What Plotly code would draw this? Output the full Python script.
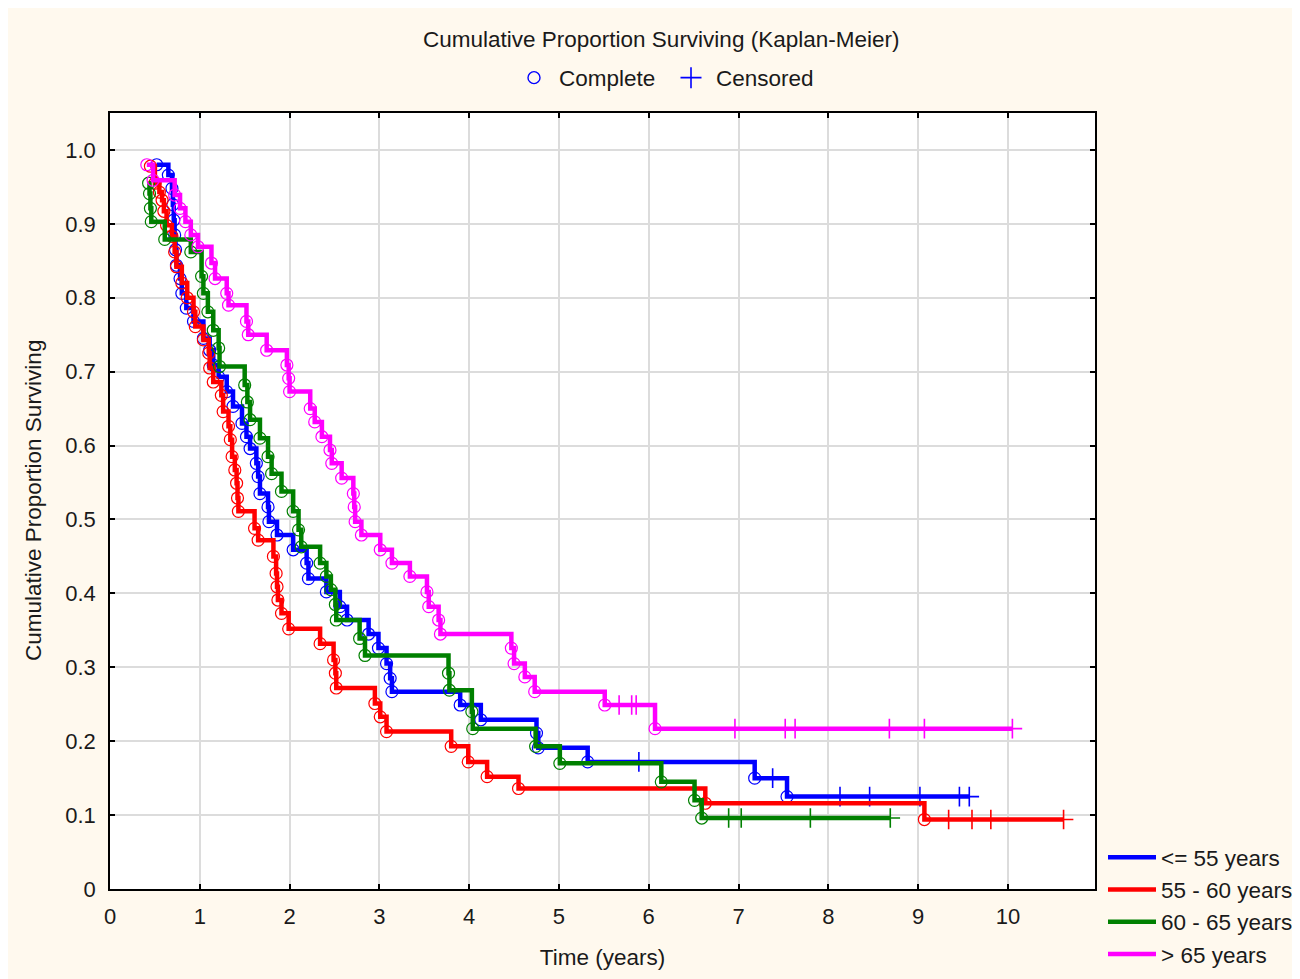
import plotly.graph_objects as go

# ---------------- data ----------------
group_names = ["<= 55 years", "55 - 60 years", "60 - 65 years", "> 65 years"]
group_colors = ["#0000FF", "#FF0000", "#008000", "#FF00FF"]

blue_t = [0.52, 0.65, 0.69, 0.70, 0.71, 0.72, 0.73, 0.74, 0.78, 0.80, 0.85, 0.93, 1.04, 1.11, 1.15,
          1.21, 1.30, 1.37, 1.47, 1.52, 1.56, 1.63, 1.65, 1.67, 1.76, 1.77, 1.86, 2.04, 2.19, 2.21,
          2.41, 2.56, 2.64, 2.88, 2.99, 3.08, 3.12, 3.14, 3.90, 4.13, 4.75, 4.77, 5.32, 7.18, 7.54]
blue_s = [0.980, 0.966, 0.948, 0.926, 0.905, 0.885, 0.865, 0.844, 0.826, 0.806, 0.786, 0.768, 0.745,
          0.729, 0.709, 0.693, 0.673, 0.653, 0.630, 0.612, 0.596, 0.576, 0.558, 0.535, 0.517, 0.497,
          0.479, 0.459, 0.441, 0.420, 0.402, 0.382, 0.364, 0.345, 0.326, 0.305, 0.285, 0.267, 0.249,
          0.229, 0.211, 0.191, 0.172, 0.150, 0.125]
blue_cens = [5.89, 7.38, 8.13, 8.46, 9.02, 9.46, 9.57]

red_t = [0.45, 0.50, 0.55, 0.58, 0.60, 0.63, 0.69, 0.72, 0.74, 0.80, 0.86, 0.93, 0.95, 1.04, 1.10,
         1.11, 1.15, 1.24, 1.26, 1.32, 1.34, 1.36, 1.39, 1.41, 1.42, 1.43, 1.61, 1.65, 1.82, 1.85,
         1.86, 1.87, 1.91, 1.99, 2.34, 2.49, 2.51, 2.52, 2.95, 3.01, 3.08, 3.80, 3.99, 4.20, 4.55,
         6.63, 9.07]
red_s = [0.978, 0.955, 0.943, 0.932, 0.917, 0.898, 0.883, 0.862, 0.842, 0.820, 0.800, 0.781, 0.761,
         0.743, 0.725, 0.705, 0.686, 0.668, 0.646, 0.626, 0.608, 0.585, 0.567, 0.549, 0.529, 0.511,
         0.488, 0.472, 0.450, 0.427, 0.409, 0.391, 0.373, 0.352, 0.332, 0.310, 0.292, 0.272, 0.251,
         0.233, 0.213, 0.193, 0.172, 0.152, 0.136, 0.116, 0.094]
red_cens = [9.34, 9.60, 9.81, 10.62]

green_t = [0.43, 0.44, 0.45, 0.46, 0.61, 0.90, 1.02, 1.04, 1.09, 1.15, 1.21, 1.22, 1.50, 1.53, 1.56,
           1.67, 1.76, 1.80, 1.91, 2.04, 2.10, 2.13, 2.34, 2.41, 2.46, 2.51, 2.52, 2.78, 2.84, 3.77,
           3.78, 4.03, 4.04, 4.74, 5.01, 6.14, 6.51, 6.59]
green_s = [0.955, 0.941, 0.921, 0.903, 0.879, 0.862, 0.829, 0.806, 0.781, 0.756, 0.732, 0.707, 0.682,
           0.659, 0.635, 0.610, 0.585, 0.562, 0.538, 0.511, 0.486, 0.463, 0.441, 0.423, 0.405, 0.385,
           0.364, 0.339, 0.316, 0.292, 0.269, 0.240, 0.217, 0.193, 0.170, 0.145, 0.120, 0.096]
green_cens = [6.89, 7.03, 7.80, 8.69]

magenta_t = [0.41, 0.48, 0.72, 0.78, 0.84, 0.90, 0.98, 1.13, 1.17, 1.30, 1.32, 1.52, 1.54, 1.745,
             1.97, 1.99, 2.00, 2.23, 2.28, 2.36, 2.45, 2.47, 2.58, 2.71, 2.72, 2.73, 2.80, 3.01, 3.14,
             3.34, 3.53, 3.55, 3.66, 3.68, 4.47, 4.50, 4.62, 4.73, 5.51, 6.07]
magenta_s = [0.980, 0.959, 0.939, 0.921, 0.903, 0.885, 0.869, 0.847, 0.826, 0.806, 0.790, 0.768,
             0.750, 0.729, 0.709, 0.691, 0.673, 0.650, 0.632, 0.612, 0.594, 0.576, 0.556, 0.535,
             0.517, 0.497, 0.479, 0.459, 0.441, 0.423, 0.402, 0.382, 0.364, 0.345, 0.326, 0.305,
             0.287, 0.267, 0.249, 0.217]
magenta_cens = [5.67, 5.81, 5.86, 6.96, 7.52, 7.63, 8.68, 9.07, 10.05]

x_ticks = [0, 1, 2, 3, 4, 5, 6, 7, 8, 9, 10]
y_ticks = [0, 0.1, 0.2, 0.3, 0.4, 0.5, 0.6, 0.7, 0.8, 0.9, 1.0]
y_tick_labels = ["0", "0.1", "0.2", "0.3", "0.4", "0.5", "0.6", "0.7", "0.8", "0.9", "1.0"]

groups = [
    (blue_t, blue_s, blue_cens),
    (red_t, red_s, red_cens),
    (green_t, green_s, green_cens),
    (magenta_t, magenta_s, magenta_cens),
]

FONT = "Liberation Sans, Arial, sans-serif"
TXT = "#1a1a1a"
FS = 22.5

# figure geometry (pixels)
W, H = 1300, 979
ML, MR, MT, MB = 102, 213, 105, 98
PW, PH = W - ML - MR, H - MT - MB


def surv_at(times, surv, c):
    val = surv[0]
    for t, s in zip(times, surv):
        if t <= c:
            val = s
    return val


fig = go.Figure()

for (t, s, cens), name, col in zip(groups, group_names, group_colors):
    end = max(max(t), max(cens))
    lx = list(t) + [end]
    ly = list(s) + [s[-1]]
    fig.add_trace(go.Scatter(
        x=lx, y=ly, mode="lines", line=dict(color=col, width=4.5, shape="hv"),
        name=name, legend="legend", legendgroup=name, showlegend=True, hoverinfo="skip"))
    fig.add_trace(go.Scatter(
        x=t, y=s, mode="markers",
        marker=dict(symbol="circle-open", size=12, color=col, line=dict(width=1.2, color=col)),
        showlegend=False, legendgroup=name, hoverinfo="skip"))
    fig.add_trace(go.Scatter(
        x=cens, y=[surv_at(t, s, c) for c in cens], mode="markers",
        marker=dict(symbol="cross-thin-open", size=14, color=col, line=dict(width=1.6, color=col)),
        showlegend=False, legendgroup=name, hoverinfo="skip"))

# top legend: Complete / Censored
fig.add_trace(go.Scatter(
    x=[None], y=[None], mode="markers", name="Complete", legend="legend2",
    marker=dict(symbol="circle-open", size=12, color="#0000FF", line=dict(width=1.4, color="#0000FF"))))
fig.add_trace(go.Scatter(
    x=[None], y=[None], mode="markers", name="Censored", legend="legend3",
    marker=dict(symbol="cross-thin-open", size=15, color="#0000FF", line=dict(width=1.6, color="#0000FF"))))

axis_common = dict(
    showline=True, linecolor="black", linewidth=1.5, mirror="ticks",
    ticks="inside", ticklen=5, tickcolor="black", tickwidth=1.5,
    showgrid=True, gridcolor="#DCDCDC", gridwidth=2, zeroline=False,
    tickfont=dict(family=FONT, size=22, color=TXT),
)

fig.update_xaxes(
    range=[0, 10.97], tickvals=x_ticks, ticktext=[str(v) for v in x_ticks],
    title=dict(text="Time (years)", font=dict(family=FONT, size=FS, color=TXT), standoff=21),
    ticklabelstandoff=7, **axis_common)
fig.update_yaxes(
    range=[0, 1.05], tickvals=y_ticks, ticktext=y_tick_labels,
    ticklabelstandoff=8, **axis_common)


def px_x(fx):
    return (fx - ML) / PW


def px_y(fy):
    return 1.0 - (fy - MT) / PH


legend_font = dict(family=FONT, size=FS, color=TXT)
fig.update_layout(
    width=W, height=H,
    margin=dict(l=ML, r=MR, t=MT, b=MB, autoexpand=False),
    paper_bgcolor="#FFF9EE", plot_bgcolor="#FFFFFF",
    font=dict(family=FONT, size=FS, color=TXT),
    showlegend=True,
    legend=dict(
        x=px_x(1095), xanchor="left", y=px_y(828), yanchor="top",
        bgcolor="rgba(0,0,0,0)", font=legend_font,
        traceorder="grouped", tracegroupgap=0, itemwidth=48,
    ),
    legend2=dict(
        x=px_x(501), xanchor="left", y=px_y(70), yanchor="middle",
        bgcolor="rgba(0,0,0,0)", font=legend_font, itemwidth=40,
    ),
    legend3=dict(
        x=px_x(658), xanchor="left", y=px_y(70), yanchor="middle",
        bgcolor="rgba(0,0,0,0)", font=legend_font, itemwidth=40,
    ),
    annotations=[
        dict(text="Cumulative Proportion Surviving (Kaplan-Meier)", xref="paper", yref="paper",
             x=px_x(653), y=px_y(32), xanchor="center", yanchor="middle",
             showarrow=False, font=dict(family=FONT, size=FS, color=TXT)),
        dict(text="Cumulative Proportion Surviving", xref="paper", yref="paper",
             x=px_x(25), y=0.5, xanchor="center", yanchor="middle", textangle=-90,
             showarrow=False, font=dict(family=FONT, size=FS, color=TXT)),
    ],
)

fig.write_html("out.html")
